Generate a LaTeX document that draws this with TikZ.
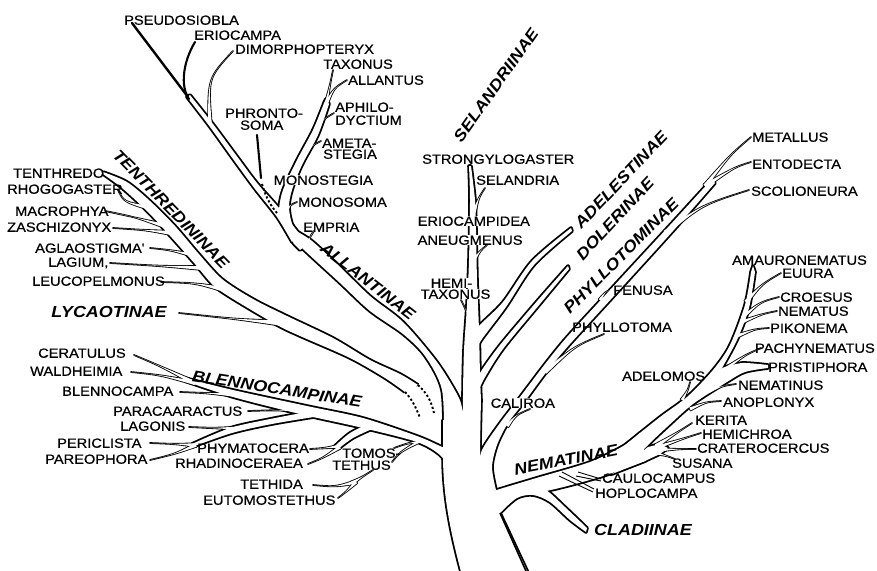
\documentclass[tikz,border=0pt]{standalone}
\usepackage{fontspec}
\newfontfamily\labfont[FakeStretch=1.1,FakeBold=0.6]{Liberation Sans}
\newfontfamily\subfont[FakeStretch=1.12]{Liberation Sans}
\usetikzlibrary{calc}
\pgfdeclarelayer{bg}
\pgfsetlayers{bg,main}
\newcommand\twigpath[4]{($(#1)!#4!90:(#2)$) .. controls (#2) .. (#3) .. controls (#2) .. ($(#1)!#4!-90:(#2)$) -- cycle}
\begin{document}
\begin{tikzpicture}[x=1pt,y=-1pt,
  tubeline/.style={draw=black,line width=3.6pt,line join=round},
  twigline/.style={draw=black,line width=1.7pt,line join=round},
  solo/.style={draw=black,line width=2.4pt,line cap=round},
  hair/.style={draw=black,line width=0.9pt},
  dotline/.style={draw=black,line width=1.9pt,dash pattern=on 2.2pt off 2.2pt},
  lab/.style={font=\labfont\fontsize{13.3}{14}\selectfont,inner sep=0pt,text height=9.5pt,text depth=0pt,anchor=west},
  ko/.style={fill=white,inner xsep=0.5pt},
  sub/.style={font=\subfont\bfseries\itshape\fontsize{16}{17}\selectfont,inner sep=0pt},
]
\useasboundingbox (0,0) rectangle (877,570);
% ---------------- labels ----------------
\node[lab] (pseudosiobla) at (124,20) {PSEUDOSIOBLA};
\node[lab] (eriocampa) at (194,35) {ERIOCAMPA};
\node[lab] (dimorphopteryx) at (235,49) {DIMORPHOPTERYX};
\node[lab] (taxonus) at (323,64) {TAXONUS};
\node[lab] (allantus) at (348,80) {ALLANTUS};
\node[lab] (aphilo) at (335,107) {APHILO-};
\node[lab] (dyctium) at (335,120) {DYCTIUM};
\node[lab] (phronto) at (225,113) {PHRONTO-};
\node[lab] (soma) at (240,125) {SOMA};
\node[lab] (ameta) at (322,143) {AMETA-};
\node[lab] (stegia) at (323,154) {STEGIA};
\node[lab,ko] (monostegia) at (273,180) {MONOSTEGIA};
\node[lab] (monosoma) at (298,202) {MONOSOMA};
\node[lab] (empria) at (303,227) {EMPRIA};
\node[lab] (tenthredo) at (13,173) {TENTHREDO};
\node[lab] (rhogogaster) at (7,189) {RHOGOGASTER};
\node[lab] (macrophya) at (15,211) {MACROPHYA};
\node[lab] (zaschizonyx) at (7,227) {ZASCHIZONYX};
\node[lab] (aglaostigma) at (35,248) {AGLAOSTIGMA'};
\node[lab] (lagium) at (48,262) {LAGIUM,};
\node[lab] (leucopelmonus) at (32,281) {LEUCOPELMONUS};
\node[lab] (ceratulus) at (38,353) {CERATULUS};
\node[lab] (waldheimia) at (30,371) {WALDHEIMIA};
\node[lab] (blennocampa) at (62,391) {BLENNOCAMPA};
\node[lab] (paracaaractus) at (113,411) {PARACAARACTUS};
\node[lab] (lagonis) at (120,426) {LAGONIS};
\node[lab] (periclista) at (57,443) {PERICLISTA};
\node[lab] (pareophora) at (45,459) {PAREOPHORA};
\node[lab] (phymatocera) at (197,448) {PHYMATOCERA};
\node[lab] (rhadinoceraea) at (175,463) {RHADINOCERAEA};
\node[lab] (tomos) at (342,453) {TOMOS-};
\node[lab] (tethus) at (332,465) {TETHUS};
\node[lab] (tethida) at (240,484) {TETHIDA};
\node[lab] (eutomostethus) at (203,500) {EUTOMOSTETHUS};
\node[lab] (strongylogaster) at (422,159) {STRONGYLOGASTER};
\node[lab] (selandria) at (476,180) {SELANDRIA};
\node[lab,ko] (eriocampidea) at (417,221) {ERIOCAMPIDEA};
\node[lab,ko] (aneugmenus) at (417,240) {ANEUGMENUS};
\node[lab,ko] (hemi) at (430,283) {HEMI-};
\node[lab,ko] (taxonusb) at (420,294) {TAXONUS};
\node[lab,ko] (caliroa) at (490,403) {CALIROA};
\node[lab] (fenusa) at (613,290) {FENUSA};
\node[lab] (phyllotoma) at (572,327) {PHYLLOTOMA};
\node[lab] (metallus) at (752,137) {METALLUS};
\node[lab] (entodecta) at (752,164) {ENTODECTA};
\node[lab] (scolioneura) at (751,191) {SCOLIONEURA};
\node[lab] (amauronematus) at (732,260) {AMAURONEMATUS};
\node[lab] (euura) at (782,273) {EUURA};
\node[lab] (croesus) at (780,297) {CROESUS};
\node[lab] (nematus) at (778,311) {NEMATUS};
\node[lab] (pikonema) at (770,328) {PIKONEMA};
\node[lab,anchor=east] (pachynematus) at (875,348) {PACHYNEMATUS};
\node[lab] (pristiphora) at (768,367) {PRISTIPHORA};
\node[lab] (adelomos) at (622,376) {ADELOMOS};
\node[lab] (nematinus) at (738,385) {NEMATINUS};
\node[lab] (anoplonyx) at (723,402) {ANOPLONYX};
\node[lab] (kerita) at (695,420) {KERITA};
\node[lab] (hemichroa) at (702,434) {HEMICHROA};
\node[lab] (craterocercus) at (697,448) {CRATEROCERCUS};
\node[lab] (susana) at (672,463) {SUSANA};
\node[lab] (caulocampus) at (602,478) {CAULOCAMPUS};
\node[lab] (hoplocampa) at (595,493) {HOPLOCAMPA};
% subfamilies
\node[sub,rotate=54.7] (selandriinae) at (496,85) {SELANDRIINAE};
\node[sub,rotate=46.5] (adelestinae) at (621,180) {ADELESTINAE};
\node[sub,rotate=47] (dolerinae) at (615,219) {DOLERINAE};
\node[sub,rotate=45] (phyllotominae) at (621,256) {PHYLLOTOMINAE};
\node[sub,rotate=-45.8] (tenthredininae) at (171,209) {TENTHREDININAE};
\node[sub,rotate=-37.7] (allantinae) at (368,281) {ALLANTINAE};
\node[sub,rotate=-9] (blennocampinae) at (277,389) {BLENNOCAMPINAE};
\node[sub] (lycaotinae) at (109,312) {LYCAOTINAE};
\node[sub,rotate=11] (nematinae) at (566,460) {NEMATINAE};
\node[sub] (cladiinae) at (643,530) {CLADIINAE};
% ---------------- branches ----------------
\def\pT{(466,590) .. controls (452,540) and (443,500) .. (443,455) -- (443,420) -- (480,420) -- (480,470) -- (486,500) -- (500,513) -- (536,590) -- cycle}
\def\pS{plot[smooth] coordinates{(469,166)(470,200)(469,260)(467,305)(464,350)(463,395)(463,440)} -- (480,440) --plot[smooth] coordinates{(481,400)(480,375)(479,330)(477,280)(476,230)(475,200)(471,166)} -- cycle}
\def\pAL{plot[smooth] coordinates{(444,445)(442,390)(425,356)(403,334)(370,311)(340,283)(300,246)(285,228)} --plot[smooth] coordinates{(298,232)(312,241)(335,262)(370,296)(403,322)(437,362)(458,396)(463,412)(470,440)} -- cycle}
\def\pPS{plot[smooth] coordinates{(292,242)(277,217)(255,189)(233,159)(210,127)(187,97)} --plot[smooth] coordinates{(190,95)(213,124)(236,155)(257,183)(279,208)(298,232)} -- cycle}
\def\pMS{plot[smooth] coordinates{(294,244)(282,222)(279,210)(283,190)(297,160)(313,130)(324,103)} -- (326,99) --plot[smooth] coordinates{(329,104)(318,135)(302,165)(292,190)(289,208)(294,228)(310,242)} -- (300,250) -- cycle}
\def\pA{plot[smooth] coordinates{(474,338)(478,327)(503,302)(532,261)(571,228)} --plot[smooth] coordinates{(572,231)(534,265)(506,307)(482,339)(476,350)} -- cycle}
\def\pD{plot[smooth] coordinates{(476,385)(480,373)(500,345)(538,300)(568,266)} --plot[smooth] coordinates{(569,269)(540,304)(503,349)(484,379)(478,392)} -- cycle}
\def\pP{plot[smooth] coordinates{(478,470)(482,450)(500,423)(520,397)(545,364)(567,337)(610,290)(670,225)(712,179)} --plot[smooth] coordinates{(715,183)(673,231)(613,297)(570,344)(548,370)(525,401)(508,423)(497,445)(492,467)(496,490)} -- (488,501) -- (478,485) -- cycle}
\def\pN{plot[smooth] coordinates{(468,505)(485,494)(533,479)(590,462)(625,445)(640,433)} -- (646,460) --plot[smooth] coordinates{(645,461)(600,477)(546,491)(510,494)(480,510)} -- cycle}
\def\pC{plot[smooth] coordinates{(490,525)(500,513)(517,498)(533,495)(550,502)(570,520)(586,532)} --plot[smooth] coordinates{(587,528)(565,507)(546,490)(530,486)(500,497)} -- (480,505) -- cycle}
\def\pAM{(612,455) -- (625,445) --plot[smooth] coordinates{(625,445)(660,417)(687,397)(713,370)(730,345)(745,305)(751,272)} -- (753,266) --plot[smooth] coordinates{(755,272)(749,308)(737,340)(722,368)} -- (708,386) -- (690,402) -- (665,423) -- (640,445) -- (620,462) -- cycle}
\def\pPR{(630,450) -- (660,425) -- (685,403) -- (705,385) -- (722,368) --plot[smooth] coordinates{(722,368)(742,363)(768,365)} --plot[smooth] coordinates{(768,368)(745,372)(727,382)(693,404)(667,427)(647,446)(630,465)} -- cycle}
\def\pK{(618,470) -- (648,447) -- (660,444) -- (668,448) -- (660,454) -- (645,461) -- (612,474) -- cycle}
\def\pBL{plot[smooth] coordinates{(462,456)(440,446)(417,436)(363,418)(307,406)(233,390)(185,378)} --plot[smooth] coordinates{(185,381)(233,397)(300,414)(363,428)(417,442)(440,455)(450,470)} -- cycle}
\def\pBLb{plot[smooth] coordinates{(318,410)(270,419)(230,428)(192,444)} --plot[smooth] coordinates{(192,447)(232,433)(272,424)(320,416)} -- cycle}
\def\pBLc{plot[smooth] coordinates{(368,424)(350,433)(336,445)} -- (334,447) --plot[smooth] coordinates{(338,449)(353,438)(372,429)} -- cycle}
\newcommand\tubes[1]{%
  \path[#1] \pT; \path[#1] \pS; \path[#1] \pAL; \path[#1] \pPS; \path[#1] \pMS;
  \path[#1] \pA; \path[#1] \pD; \path[#1] \pP; \path[#1] \pN; \path[#1] \pC;
  \path[#1] \pAM; \path[#1] \pPR; \path[#1] \pK; \path[#1] \pBL; \path[#1] \pBLb; \path[#1] \pBLc;}
\newcommand\twigs[1]{%
  % Allantinae
  \path[#1] \twigpath{210,124}{208,78}{233,51}{1.8pt};
  \path[#1] \twigpath{326,104}{330,85}{333,70}{1.5pt};
  \path[#1] \twigpath{326,104}{334,88}{347,80}{1.8pt};
  \path[#1] \twigpath{315,132}{322,120}{334,113}{1.6pt};
  \path[#1] \twigpath{304,157}{311,146}{321,141}{1.4pt};
  \path[#1] \twigpath{287,211}{290,205}{297,202}{1.4pt};
  \path[#1] \twigpath{308,243}{310,236}{314,231}{1.4pt};
  % Selandriinae
  \path[#1] \twigpath{474,212}{479,197}{485,188}{1.8pt};
  \path[#1] \twigpath{475,258}{481,250}{487,245}{1.4pt};
  \path[#1] \twigpath{472,328}{467,312}{461,300}{1.6pt};
  % Phyllotominae
  \path[#1] \twigpath{705,186}{730,155}{751,137}{2pt};
  \path[#1] \twigpath{705,186}{735,167}{751,162}{2pt};
  \path[#1] \twigpath{665,233}{702,205}{749,190}{2.5pt};
  \path[#1] \twigpath{600,300}{605,292}{612,289}{1.5pt};
  \path[#1] \twigpath{545,372}{575,346}{604,334}{2.2pt};
  \path[#1] \twigpath{507,426}{516,415}{530,409}{1.8pt};
  % Nematinae
  \path[#1] \twigpath{746,302}{762,284}{781,273}{2pt};
  \path[#1] \twigpath{742,318}{760,302}{779,297}{1.8pt};
  \path[#1] \twigpath{742,322}{762,314}{777,311}{1.6pt};
  \path[#1] \twigpath{737,336}{755,329}{769,328}{1.6pt};
  \path[#1] \twigpath{724,370}{745,355}{761,348}{1.8pt};
  \path[#1] \twigpath{708,392}{722,386}{736,384}{1.5pt};
  \path[#1] \twigpath{690,409}{706,402}{721,401}{1.6pt};
  \path[#1] \twigpath{682,400}{688,390}{690,382}{1.5pt};
  \path[#1] \twigpath{656,446}{678,432}{692,423}{2pt};
  \path[#1] \twigpath{658,447}{685,438}{701,433}{1.7pt};
  \path[#1] \twigpath{658,450}{680,449}{696,449}{1.7pt};
  \path[#1] \twigpath{656,453}{667,456}{675,459}{1.3pt};
  % Tenthredininae
  \path[#1] \twigpath{150,208}{124,202}{118,190}{2pt};
  \path[#1] \twigpath{165,226}{135,217}{105,211}{2pt};
  \path[#1] \twigpath{172,233}{145,230}{113,228}{2.2pt};
  \path[#1] \twigpath{192,255}{170,250}{150,248}{1.6pt};
  \path[#1] \twigpath{202,268}{160,266}{110,263}{2pt};
  \path[#1] \twigpath{222,289}{195,283}{161,282}{2.2pt};
  \path[#1] \twigpath{280,323}{235,319}{179,313}{2.5pt};
  % Blennocampinae
  \path[#1] \twigpath{195,383}{160,366}{134,355}{2pt};
  \path[#1] \twigpath{195,383}{160,375}{131,372}{2pt};
  \path[#1] \twigpath{235,395}{205,393}{180,392}{1.8pt};
  \path[#1] \twigpath{312,411}{280,410}{248,411}{2pt};
  \path[#1] \twigpath{240,428}{215,428}{189,427}{1.6pt};
  \path[#1] \twigpath{196,445}{175,444}{150,443}{1.8pt};
  \path[#1] \twigpath{196,445}{175,454}{150,460}{1.8pt};
  \path[#1] \twigpath{340,446}{325,448}{310,449}{1.6pt};
  \path[#1] \twigpath{340,447}{323,458}{308,464}{1.6pt};
  \path[#1] \twigpath{425,441}{408,443}{394,448}{1.5pt};
  \path[#1] \twigpath{420,441}{400,452}{392,462}{1.3pt};
  \path[#1] \twigpath{352,483}{362,477}{373,470}{1.8pt};
  \path[#1] \twigpath{356,482}{335,487}{313,485}{1.8pt};
  \path[#1] \twigpath{356,482}{346,492}{338,498}{1.6pt};}
\begin{pgfonlayer}{bg}
  \fill[white] (0,0) rectangle (877,570);
  % pass 1: outlines
  \tubes{tubeline}
  \draw[tubeline] plot[smooth] coordinates{(103,172)(127,182)(150,201)(175,226)(198,253)(222,279)(253,299)(287,316)(333,338)(370,360)(400,374)(418,385)};
  \draw[tubeline] plot[smooth] coordinates{(103,174)(122,188)(147,211)(172,238)(195,264)(213,285)(233,299)(277,325)(300,336)(350,358)(385,378)(405,392)};
  \twigs{twigline}
  % pass 2: fills
  \tubes{fill=white}
  \fill[white] plot[smooth] coordinates{(103,172)(127,182)(150,201)(175,226)(198,253)(222,279)(253,299)(287,316)(333,338)(370,360)(400,374)(418,385)} --plot[smooth] coordinates{(405,392)(385,378)(350,358)(300,336)(277,325)(233,299)(213,285)(195,264)(172,238)(147,211)(122,188)(103,174)} -- cycle;
  \twigs{fill=white}
  % pass 3: single strokes
  \draw[solo] (188,97) -- (132,23);
  \draw[solo,line width=2.1pt] (195,42) .. controls (183,62) and (180,86) .. (189,99);
  \draw[solo,line width=2.1pt] (257,135) -- (261,178);
  \draw[dotline] (262,184) .. controls (266,198) and (271,206) .. (277,213);
  \draw[dotline] (418,385) .. controls (426,392) and (431,400) .. (434,413);
  \draw[dotline] (405,392) .. controls (411,398) and (416,407) .. (420,418);
  \draw[solo,line width=1.6pt,line cap=butt] (500,513) -- (530,580);
  \draw[hair] (559,476) -- (593,492);
  \draw[hair] (562,472) -- (594,489);
  \draw[hair] (576,476) -- (601,481);
  \draw[hair] (578,472) -- (601,479);
\end{pgfonlayer}
\end{tikzpicture}
\end{document}
